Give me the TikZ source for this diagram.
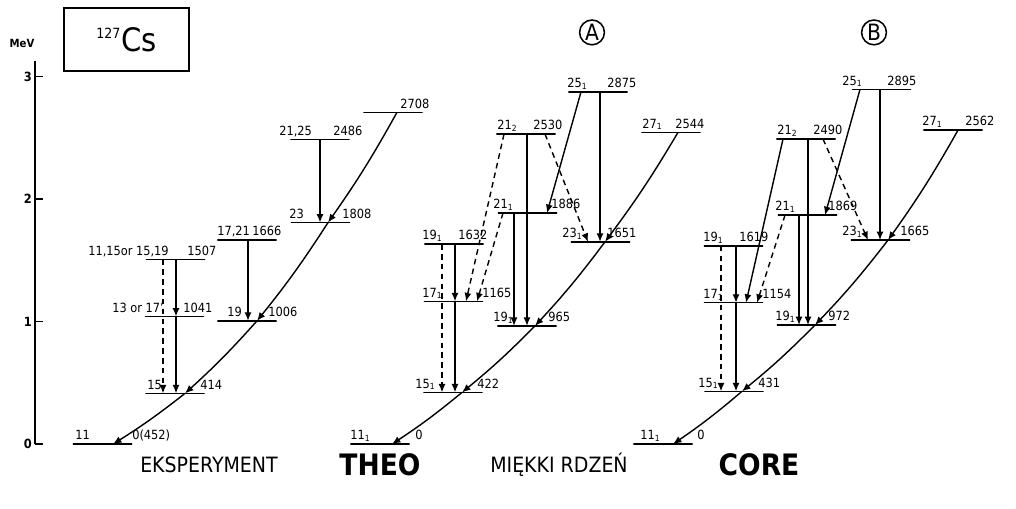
\documentclass[tikz,border=0pt]{standalone}
\usepackage{fontspec}
\setmainfont{DejaVu Sans Condensed}
\usetikzlibrary{arrows.meta}

\newcommand{\lev}[7]{%
  \node[level] (#1) at (#2,#3) {};
  \node[lab] (#1l) at (#4,0 |- #1) {#5};
  \node[lab] (#1r) at (#6,0 |- #1) {#7};}

\begin{document}
\begin{tikzpicture}[x=0.025cm,y=3.0625cm,>=Latex,
    level/.style={draw,line width=1.1pt,inner sep=0pt,outer sep=0pt,minimum height=0pt,minimum width=1.48cm},
    lab/.style={anchor=base west,inner sep=0pt,yshift=3pt,font=\fontsize{9}{11}\selectfont},
    tr/.style={-{Latex[length=6pt,width=5pt]},line width=1pt},
    trd/.style={tr,dashed,dash pattern=on 4pt off 3pt},
    big/.style={font=\fontsize{15}{18}\selectfont},
    bigb/.style={font=\fontsize{21}{24}\selectfont\bfseries}]
    \useasboundingbox (0,-0.5224) rectangle (1016,3.6245);

    \draw[line width=1.1pt] (35,3.13) -- (35,0);
    \foreach \e in {0,1,2,3} {
      \draw[line width=1.1pt] (35,\e) -- (43,\e);
      \node[anchor=east,inner sep=2pt,font=\fontsize{9}{10}\selectfont\bfseries] (ax\e) at (35,\e) {\e};
    }
    \node[font=\fontsize{8}{10}\selectfont\bfseries] (mev) at (22,3.27) {MeV};
    \node[draw,line width=1.1pt,minimum width=3.125cm,minimum height=1.575cm,font=\fontsize{23}{26}\selectfont] (title) at (126.5,3.302) {\textsuperscript{\fontsize{10}{12}\selectfont 127}Cs};
    \node[draw,circle,line width=1.1pt,inner sep=0pt,minimum size=0.62cm,font=\fontsize{16}{18}\selectfont] (capA) at (592,3.36) {A};
    \node[draw,circle,line width=1.1pt,inner sep=0pt,minimum size=0.62cm,font=\fontsize{16}{18}\selectfont] (capB) at (874,3.36) {B};

    \lev{e11}{102.5}{0}{75}{11}{132}{0(452)}
    \lev{e414}{175}{0.414}{147}{15}{200}{414}
    \lev{e1041}{174.5}{1.041}{112}{13 or 17'}{183}{1041}
    \lev{e1507}{175.5}{1.507}{88}{11,15or 15,19}{187}{1507}
    \lev{e1006}{247}{1.006}{227}{19}{268}{1006}
    \lev{e1666}{247}{1.666}{217}{17,21}{252}{1666}
    \lev{e1808}{320.5}{1.808}{289}{23}{342}{1808}
    \lev{e2486}{320}{2.486}{279}{21,25}{333}{2486}
    \lev{e2708}{393}{2.708}{365}{}{400}{2708}

    \lev{a0}{380}{0}{350}{11\textsubscript{1}}{415}{0}
    \lev{a422}{453}{0.422}{415}{15\textsubscript{1}}{477}{422}
    \lev{a1165}{453.5}{1.165}{422}{17\textsubscript{1}}{482}{1165}
    \lev{a965}{527}{0.965}{493}{19\textsubscript{1}}{548}{965}
    \lev{a1632}{454}{1.632}{422}{19\textsubscript{1}}{458}{1632}
    \lev{a1886}{527.5}{1.886}{493}{21\textsubscript{1}}{551}{1886}
    \lev{a2530}{526}{2.530}{497}{21\textsubscript{2}}{533}{2530}
    \lev{a1651}{600.5}{1.651}{562}{23\textsubscript{1}}{607}{1651}
    \lev{a2875}{598}{2.875}{567}{25\textsubscript{1}}{607}{2875}
    \lev{a2544}{671}{2.544}{642}{27\textsubscript{1}}{675}{2544}

    \lev{b0}{663}{0}{640}{11\textsubscript{1}}{697}{0}
    \lev{b431}{734}{0.431}{698}{15\textsubscript{1}}{758}{431}
    \lev{b1154}{733.5}{1.154}{703}{17\textsubscript{1}}{762}{1154}
    \lev{b972}{806.5}{0.972}{775}{19\textsubscript{1}}{828}{972}
    \lev{b1619}{733.5}{1.619}{703}{19\textsubscript{1}}{739}{1619}
    \lev{b1869}{807.5}{1.869}{775}{21\textsubscript{1}}{828}{1869}
    \lev{b2490}{806}{2.490}{777}{21\textsubscript{2}}{813}{2490}
    \lev{b1665}{880.5}{1.665}{842}{23\textsubscript{1}}{900}{1665}
    \lev{b2895}{881.5}{2.895}{842}{25\textsubscript{1}}{887}{2895}
    \lev{b2562}{953}{2.562}{922}{27\textsubscript{1}}{965}{2562}

    % yrast
    \draw[tr] (397,0 |- e2708) to[bend left=3] (328,0 |- e1808);
    \draw[tr] (328,0 |- e1808) to[bend left=3] (257,0 |- e1006);
    \draw[tr] (257,0 |- e1006) to[bend left=3] (185,0 |- e414);
    \draw[tr] (185,0 |- e414) to[bend left=3] (113,0 |- e11);
    \draw[tr] (678,0 |- a2544) to[bend left=3] (605,0 |- a1651);
    \draw[tr] (605,0 |- a1651) to[bend left=3] (535,0 |- a965);
    \draw[tr] (535,0 |- a965) to[bend left=3] (462,0 |- a422);
    \draw[tr] (462,0 |- a422) to[bend left=3] (392,0 |- a0);
    \draw[tr] (958,0 |- b2562) to[bend left=3] (888,0 |- b1665);
    \draw[tr] (888,0 |- b1665) to[bend left=3] (815,0 |- b972);
    \draw[tr] (815,0 |- b972) to[bend left=3] (742,0 |- b431);
    \draw[tr] (742,0 |- b431) to[bend left=3] (673,0 |- b0);

    \draw[trd] (163,0 |- e1507) -- (163,0 |- e414);
    \draw[tr] (176,0 |- e1507) -- (176,0 |- e1041);
    \draw[tr] (176,0 |- e1041) -- (176,0 |- e414);
    \draw[tr] (248,0 |- e1666) -- (248,0 |- e1006);
    \draw[tr] (320,0 |- e2486) -- (320,0 |- e1808);

    \draw[trd] (442,0 |- a1632) -- (442,0 |- a422);
    \draw[tr] (455,0 |- a1632) -- (455,0 |- a1165);
    \draw[tr] (455,0 |- a1165) -- (455,0 |- a422);
    \draw[trd] (504,0 |- a2530) -- (466,0 |- a1165);
    \draw[trd] (503,0 |- a1886) -- (477,0 |- a1165);
    \draw[tr] (527,0 |- a2530) -- (527,0 |- a965);
    \draw[tr] (514,0 |- a1886) -- (514,0 |- a965);
    \draw[trd] (545,0 |- a2530) -- (588,0 |- a1651);
    \draw[tr] (581,0 |- a2875) -- (547,0 |- a1886);
    \draw[tr] (600,0 |- a2875) -- (600,0 |- a1651);

    \draw[trd] (721,0 |- b1619) -- (721,0 |- b431);
    \draw[tr] (736,0 |- b1619) -- (736,0 |- b1154);
    \draw[tr] (736,0 |- b1154) -- (736,0 |- b431);
    \draw[tr] (783,0 |- b2490) -- (746,0 |- b1154);
    \draw[trd] (785,0 |- b1869) -- (757,0 |- b1154);
    \draw[tr] (808,0 |- b2490) -- (808,0 |- b972);
    \draw[tr] (799,0 |- b1869) -- (799,0 |- b972);
    \draw[trd] (823,0 |- b2490) -- (868,0 |- b1665);
    \draw[tr] (860,0 |- b2895) -- (825,0 |- b1869);
    \draw[tr] (880,0 |- b2895) -- (880,0 |- b1665);

    \node[big] (nexp) at (209,-0.17) {EKSPERYMENT};
    \node[bigb] (ntheo) at (380,-0.17) {THEO};
    \node[big] (nsoft) at (559,-0.17) {MIĘKKI RDZEŃ};
    \node[bigb] (ncore) at (759,-0.17) {CORE};
\end{tikzpicture}
\end{document}
